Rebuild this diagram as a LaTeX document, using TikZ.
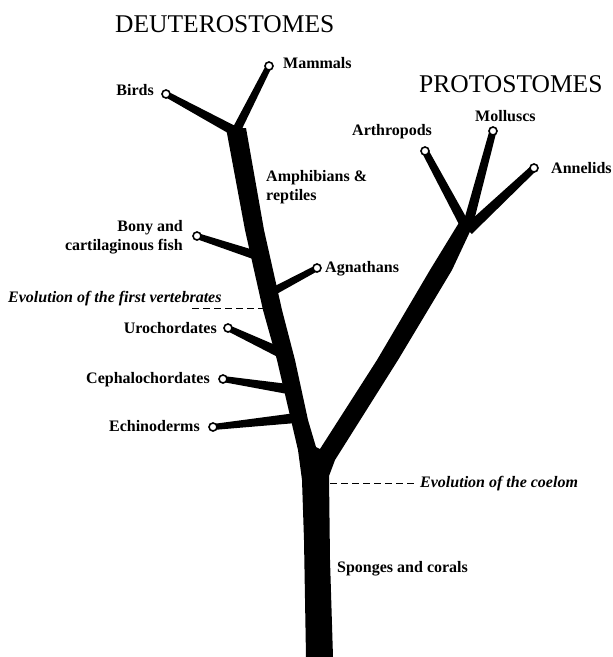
\documentclass[tikz,border=0pt]{standalone}
\usepackage{fontspec}
\setmainfont{Liberation Serif}
\usetikzlibrary{calc}
\newcommand\taperbranch[4]{%
  \fill ($(#1)!#3!90:(#2)$) -- ($(#1)!#3!-90:(#2)$) -- ($(#2)!#4!90:(#1)$) -- ($(#2)!#4!-90:(#1)$) -- cycle;}
\tikzset{
  endpt/.style={circle, draw, fill=white, line width=1.6pt, inner sep=0pt, minimum size=8pt},
  lab/.style={font=\bfseries\fontsize{16}{18.5}\selectfont, inner sep=0pt},
  evo/.style={font=\bfseries\itshape\fontsize{16}{19}\selectfont, inner sep=0pt},
  titletext/.style={font=\fontsize{25.5}{30}\selectfont, inner sep=0pt},
  dashline/.style={dash pattern=on 7pt off 4pt, line width=0.9pt}
}
\begin{document}
\begin{tikzpicture}[x=1pt,y=-1pt]
\useasboundingbox (0,0) rectangle (613,657);
% trunk, deuterostome and protostome stems
\fill (306,657) -- (304,540) -- (302,480) -- (298,450) -- (291,420) -- (277,360)
  -- (263,310) -- (245,230) -- (226,128) -- (246,128) -- (264,230) -- (282,310)
  -- (295,360) -- (308,420) -- (316,447) -- (320,449) -- (377,360) -- (430,270)
  -- (460,221) -- (474,223) -- (452,270) -- (398,360) -- (335,460) -- (329,476)
  -- (330,560) -- (333,657) -- cycle;
% join points
\coordinate (jBirds) at (238,133);
\coordinate (jMammals) at (235,133);
\coordinate (jFish) at (258,256);
\coordinate (jAgn) at (272,292);
\coordinate (jUro) at (279,352);
\coordinate (jCeph) at (288,389);
\coordinate (jEch) at (296,418);
\coordinate (jArth) at (467,229);
\coordinate (jMoll) at (467,228);
\coordinate (jAnn) at (468,230);
% end points
\coordinate (eBirds) at (166,94);
\coordinate (eMammals) at (269,66);
\coordinate (eFish) at (197,236);
\coordinate (eAgn) at (317,268);
\coordinate (eUro) at (228,328);
\coordinate (eCeph) at (223,379);
\coordinate (eEch) at (213,427);
\coordinate (eArth) at (425,151);
\coordinate (eMoll) at (493,131);
\coordinate (eAnn) at (534,168);
% branches
\taperbranch{jBirds}{eBirds}{5pt}{3pt}
\taperbranch{jMammals}{eMammals}{4.5pt}{3pt}
\taperbranch{jFish}{eFish}{4.5pt}{3pt}
\taperbranch{jAgn}{eAgn}{4pt}{3pt}
\taperbranch{jUro}{eUro}{5pt}{3pt}
\taperbranch{jCeph}{eCeph}{5pt}{3pt}
\taperbranch{jEch}{eEch}{5pt}{3pt}
\taperbranch{jArth}{eArth}{5pt}{3.5pt}
\taperbranch{jMoll}{eMoll}{5pt}{3.5pt}
\taperbranch{jAnn}{eAnn}{5.5pt}{3.5pt}
% end circles
\node[endpt] (birds) at (eBirds) {};
\node[endpt] (mammals) at (eMammals) {};
\node[endpt] (fish) at (eFish) {};
\node[endpt] (agn) at (eAgn) {};
\node[endpt] (uro) at (eUro) {};
\node[endpt] (ceph) at (eCeph) {};
\node[endpt] (ech) at (eEch) {};
\node[endpt] (arth) at (eArth) {};
\node[endpt] (moll) at (eMoll) {};
\node[endpt] (ann) at (eAnn) {};
% titles
\node[titletext, anchor=base west] (deut) at (115,32) {DEUTEROSTOMES};
\node[titletext, anchor=base west] (prot) at (419,92) {PROTOSTOMES};
% labels
\node[lab, anchor=base west] (lMammals) at (283,68) {Mammals};
\node[lab, anchor=base east] (lBirds) at (154,95) {Birds};
\node[lab, anchor=base west, align=left] (lAmph) at (266,200) {Amphibians \&\\reptiles};
\node[lab, anchor=base east, align=right] (lFish) at (183,250) {Bony and\\cartilaginous fish};
\node[lab, anchor=base west] (lAgn) at (325,272) {Agnathans};
\node[lab, anchor=base east] (lUro) at (217,333) {Urochordates};
\node[lab, anchor=base east] (lCeph) at (210,383) {Cephalochordates};
\node[lab, anchor=base east] (lEch) at (200,431) {Echinoderms};
\node[lab, anchor=base west] (lArth) at (352,135) {Arthropods};
\node[lab, anchor=base west] (lMoll) at (475,121) {Molluscs};
\node[lab, anchor=base west] (lAnn) at (551,173) {Annelids};
\node[lab, anchor=base west] (lSponge) at (337,572) {Sponges and corals};
% evolution markers
\node[evo, anchor=base west] (vert) at (8,302) {Evolution of the first vertebrates};
\node[evo, anchor=base west] (coel) at (420,487) {Evolution of the coelom};
\coordinate (vertL) at (192,308);
\coordinate (vertR) at (266,308);
\coordinate (coelL) at (330,483);
\coordinate (coelR) at (415,483);
\draw[dashline] (vertL) -- (vertR);
\draw[dashline] (coelL) -- (coelR);
\end{tikzpicture}
\end{document}
